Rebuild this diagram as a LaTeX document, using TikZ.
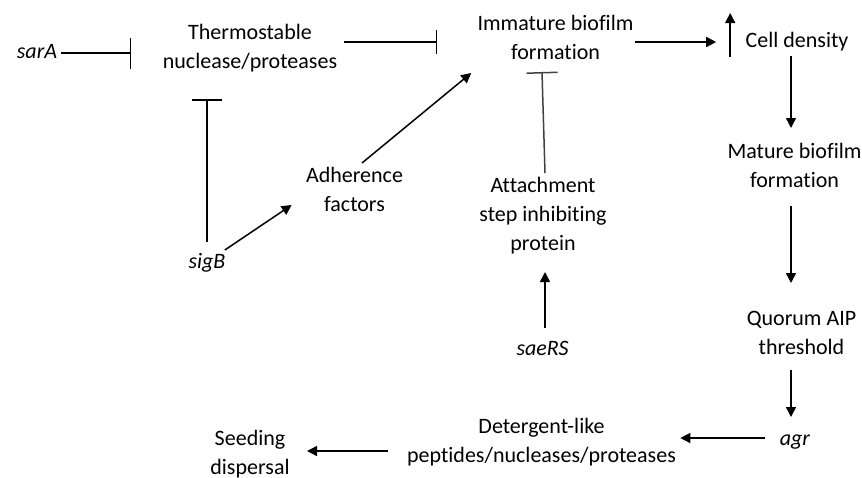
\documentclass[tikz,border=0pt]{standalone}
\usepackage{fontspec}
\setmainfont{Carlito}[Ligatures=NoCommon]
\usetikzlibrary{arrows.meta, calc}

\tikzset{
  txt/.style={anchor=base, inner sep=0pt, align=center, font=\fontsize{11}{14.5}\selectfont},
  act/.style={line width=0.75pt, -{Triangle[length=5pt,width=5pt]}},
  inh/.style={line width=0.75pt, -{Bar[width=#1]}},
  inh/.default=15pt
}

\begin{document}
\begin{tikzpicture}[x=0.5pt, y=-0.5pt]
    			\useasboundingbox (0,0) rectangle (862,477);
    			% nodos (base = ultima linea)
    			\node [txt] (sarA) at (37,58) {\textit{sarA}};
    			\node [txt] (thermo) at (250,68) {Thermostable\\nuclease/proteases};
    			\node [txt] (immature) at (555.5,59) {Immature biofilm\\formation};
    			\node [txt] (cell) at (797,47) {Cell density};
    			\node [txt] (mature) at (794.5,187) {Mature biofilm\\formation};
    			\node [txt] (quorum) at (801.5,354) {Quorum AIP\\threshold};
    			\node [txt] (agr) at (795,445) {\textit{agr}};
    			\node [txt] (detergent) at (541.5,462) {Detergent-like\\peptides/nucleases/proteases};
    			\node [txt] (seeding) at (250,474) {Seeding\\dispersal};
    			\node [txt] (sigB) at (207,268) {\textit{sigB}};
    			\node [txt] (adherence) at (354.5,211) {Adherence\\factors};
    			\node [txt] (attach) at (543,250) {Attachment\\step inhibiting\\protein};
    			\node [txt] (saeRS) at (542.5,355) {\textit{saeRS}};
    			\coordinate (upfoot) at ($(cell.base west)+(-15,10)$);
    			\coordinate (uptip) at ($(cell.base west)+(-15,-34)$);
    			
    			% conexiones
    			\path[act]
    			($(immature.base east)+(1,-17)$) edge ($(cell.base west)+(-29,-5)$)
    			(upfoot) edge (uptip)
    			($(cell.base)+(-6,9)$) edge ($(mature.base)+(-3.5,-59)$)
    			($(mature.base)+(-3.5,19)$) edge ($(quorum.base)+(-10.5,-71)$)
    			($(quorum.base)+(-10.5,16)$) edge ($(agr.base)+(-4,-28)$)
    			($(agr.base west)+(-14,-7)$) edge ($(detergent.base east)+(4,-24)$)
    			($(detergent.base west)+(-19,-11)$) edge ($(seeding.base east)+(17,-23)$)
    			($(sigB.base east)+(-1,-18)$) edge ($(adherence.base west)+(-14,-6)$)
    			($(adherence.base)+(7.5,-48)$) edge ($(immature.base west)+(-6,14)$)
    			($(saeRS.base)+(2.5,-27)$) edge ($(attach.base)+(2,22)$);
    			\path
    			($(sarA.base east)+(4,-5)$) edge[inh=15.5pt] ($(sarA.base east -| thermo.west)+(-31,-5)$)
    			($(thermo.base east)+(6,-26)$) edge[inh=12pt] ($(immature.base west)+(-40,-17)$)
    			($(sigB.base)+(0,-26)$) edge[inh] ($(thermo.base)+(-43,31)$)
    			($(attach.base)+(2,-77)$) edge[inh=15.5pt, black!75] ($(immature.base)+(-13.5,13)$);
\end{tikzpicture}
\end{document}
